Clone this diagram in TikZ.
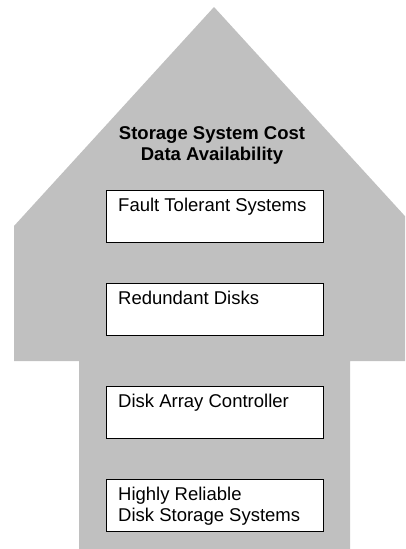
\documentclass[tikz,border=0pt]{standalone}
\usepackage{fontspec}
\setmainfont{Liberation Sans}
\begin{document}
\begin{tikzpicture}[x=1pt,y=-1pt,
  boxstyle/.style={draw=black,line width=1.2pt,fill=white,minimum width=217pt,minimum height=52pt,inner sep=0pt,anchor=north west},
  boxtext/.style={inner sep=0pt,anchor=north west,align=left,font=\fontsize{18.5}{21}\selectfont},
  titletext/.style={inner sep=0pt,anchor=north,align=center,font=\fontsize{18.5}{21}\selectfont\bfseries}]
\useasboundingbox (0,0) rectangle (405,549);
\clip (0,0) rectangle (405,549);
\fill[white] (0,0) rectangle (405,549);
% the large upward arrow
\fill[fill={rgb,255:red,192;green,192;blue,192}]
  (214,7) -- (414,226) -- (414,361) -- (350,361) -- (350,560)
  -- (79,560) -- (79,361) -- (14,361) -- (14,226) -- cycle;
% heading inside the arrow head
\node[titletext] (title) at (212,126) {Storage System Cost\\Data Availability};
% stacked layers
\node[boxstyle] (b1) at (106,190) {};
\node[boxstyle] (b2) at (106,283) {};
\node[boxstyle] (b3) at (106,386) {};
\node[boxstyle] (b4) at (106,479) {};
\node[boxtext] (t1) at ([shift={(12,8)}]b1.north west) {Fault Tolerant Systems};
\node[boxtext] (t2) at ([shift={(12,8)}]b2.north west) {Redundant Disks};
\node[boxtext] (t3) at ([shift={(12,8)}]b3.north west) {Disk Array Controller};
\node[boxtext] (t4) at ([shift={(12,8)}]b4.north west) {Highly Reliable\\Disk Storage Systems};
\end{tikzpicture}
\end{document}
